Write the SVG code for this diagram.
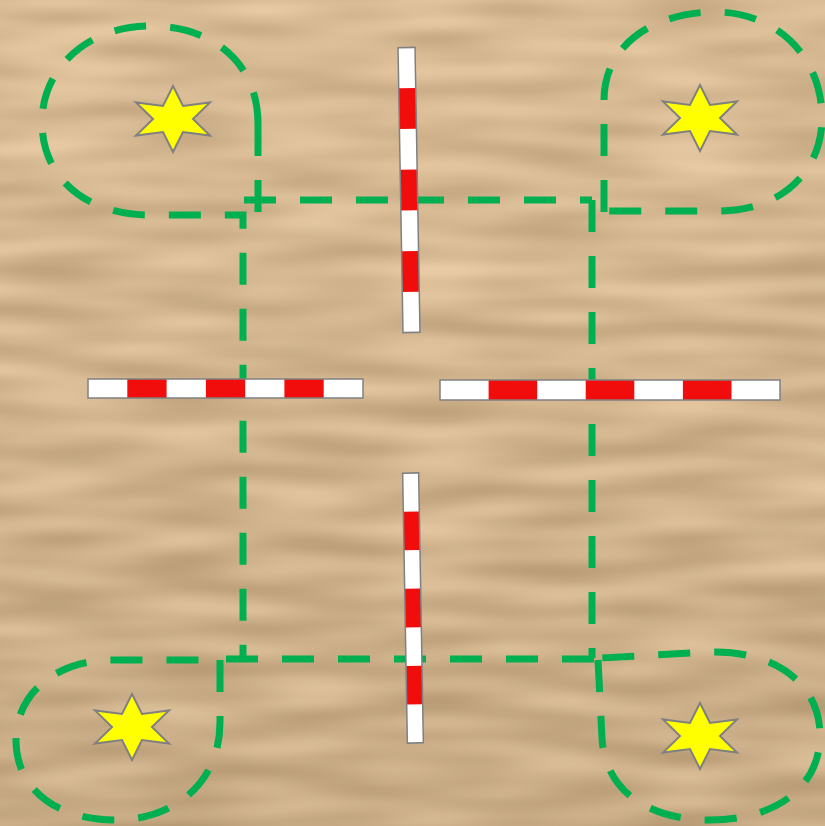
<svg xmlns="http://www.w3.org/2000/svg" width="825" height="826" viewBox="0 0 825 826">
<defs>
<style>
.route{fill:none;stroke:#00b050;stroke-width:7;stroke-dasharray:32 24;}
.pw{fill:#ffffff;}
.pr{fill:#f20d0d;}
.pole-outline{fill:none;stroke:#808080;stroke-width:1.5;}
.star{fill:#ffff00;stroke:#808080;stroke-width:2;stroke-linejoin:miter;}
</style>
<filter id="sand" x="0" y="0" width="100%" height="100%" color-interpolation-filters="sRGB">
<feTurbulence type="fractalNoise" baseFrequency="0.008 0.05" numOctaves="1" seed="7"/>
<feColorMatrix type="matrix" values="0.28 0 0 0 0.7  0.28 0 0 0 0.58  0.28 0 0 0 0.42  0 0 0 0 1"/>
</filter>
<linearGradient id="shade" x1="0" y1="0" x2="0" y2="1">
<stop offset="0" stop-color="#fff" stop-opacity="0.05"/>
<stop offset="1" stop-color="#000" stop-opacity="0.07"/>
</linearGradient>
<polygon id="starShape" points="0,-33 10,-13 37,-16.5 20,0 37,16.5 10,13 0,33 -10,13 -37,16.5 -20,0 -37,-16.5 -10,-13"/>
</defs>
<g id="background">
<rect width="825" height="826" fill="#d7b791"/>
<rect width="825" height="826" filter="url(#sand)"/>
<rect width="825" height="826" fill="url(#shade)"/>
</g>
<g id="connectors">
<path class="route" d="M258,124 L258,212"/>
<path class="route" d="M244,200 L592,200"/>
<path class="route" d="M258,124 C258,62 212,26 150,26 C88,26 42,68 42,122 C42,178 86,215 150,215 L243,215 L243,660"/>
<path class="route" d="M592,200 L592,658"/>
<path class="route" d="M604,212 L604,100 C604,44 655,12 715,12 C778,12 822,58 822,118 C822,172 780,211 720,211 L600,211"/>
<path class="route" d="M226,659 L605,659"/>
<path class="route" d="M220,660 L220,722 C220,785 172,820 115,820 C58,820 16,790 16,740 C16,692 58,660 112,660 L220,660"/>
<path class="route" d="M598,660 L602,738 C605,792 650,820 710,820 C772,820 820,790 820,735 C820,682 772,650 710,652 L600,658"/>
</g>
<g id="pole-top" transform="translate(409,190) rotate(89)">
<rect class="pw" x="-142.5" y="-8.5" width="285" height="17"/>
<rect class="pr" x="-101.8" y="-8.5" width="40.7" height="17"/>
<rect class="pr" x="-20.4" y="-8.5" width="40.7" height="17"/>
<rect class="pr" x="61.1" y="-8.5" width="40.7" height="17"/>
<rect class="pole-outline" x="-142.5" y="-8.5" width="285" height="17"/>
</g>
<g id="pole-bottom" transform="translate(413,608) rotate(89)">
<rect class="pw" x="-135" y="-8" width="270" height="16"/>
<rect class="pr" x="-96.4" y="-8" width="38.6" height="16"/>
<rect class="pr" x="-19.3" y="-8" width="38.6" height="16"/>
<rect class="pr" x="57.9" y="-8" width="38.6" height="16"/>
<rect class="pole-outline" x="-135" y="-8" width="270" height="16"/>
</g>
<g id="pole-left" transform="translate(225.5,388.5)">
<rect class="pw" x="-137.5" y="-9.5" width="275" height="19"/>
<rect class="pr" x="-98.2" y="-9.5" width="39.3" height="19"/>
<rect class="pr" x="-19.6" y="-9.5" width="39.3" height="19"/>
<rect class="pr" x="58.9" y="-9.5" width="39.3" height="19"/>
<rect class="pole-outline" x="-137.5" y="-9.5" width="275" height="19"/>
</g>
<g id="pole-right" transform="translate(610,390)">
<rect class="pw" x="-170" y="-10" width="340" height="20"/>
<rect class="pr" x="-121.4" y="-10" width="48.6" height="20"/>
<rect class="pr" x="-24.3" y="-10" width="48.6" height="20"/>
<rect class="pr" x="72.9" y="-10" width="48.6" height="20"/>
<rect class="pole-outline" x="-170" y="-10" width="340" height="20"/>
</g>
<g id="star-tl"><use href="#starShape" class="star" transform="translate(173,119)"/></g>
<g id="star-tr"><use href="#starShape" class="star" transform="translate(700,118)"/></g>
<g id="star-bl"><use href="#starShape" class="star" transform="translate(132,727)"/></g>
<g id="star-br"><use href="#starShape" class="star" transform="translate(700,736)"/></g>
</svg>
